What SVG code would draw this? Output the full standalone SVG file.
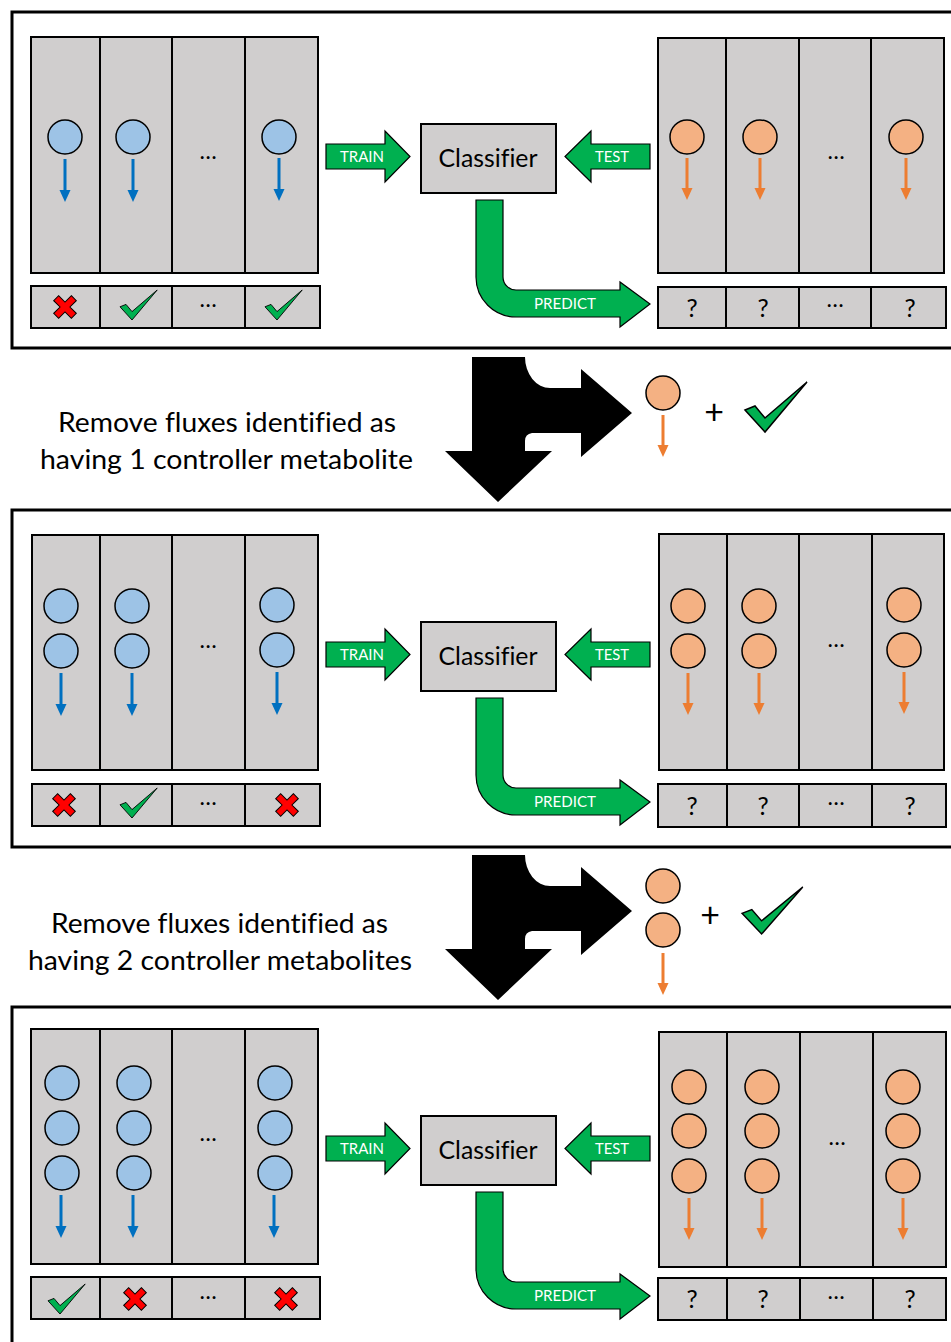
<svg xmlns="http://www.w3.org/2000/svg" xmlns:xlink="http://www.w3.org/1999/xlink" width="951" height="1342" viewBox="0 0 951 1342">
<style>
text{font-variant-ligatures:none;font-feature-settings:"liga" 0}
.panel{fill:#fff;stroke:#000;stroke-width:3}
.g{fill:#D0CECE;stroke:#000;stroke-width:2}
.dv{stroke:#000;stroke-width:2}
.bc{fill:#9DC3E6;stroke:#000;stroke-width:1.5}
.oc{fill:#F4B183;stroke:#000;stroke-width:1.5}
.grn{fill:#00B050;stroke:#000;stroke-width:1.2}
.lbl{font-family:Lato,"Liberation Sans",sans-serif;fill:#fff;font-size:15px;text-anchor:middle}
.cls{font-family:Lato,"Liberation Sans",sans-serif;fill:#000;font-size:25px;text-anchor:middle}
.el{font-family:Lato,"Liberation Sans",sans-serif;fill:#000;font-size:23px;text-anchor:middle}
.q{font-family:Lato,"Liberation Sans",sans-serif;fill:#000;font-size:25px;text-anchor:middle}
.big{font-family:Lato,"Liberation Sans",sans-serif;fill:#000;font-size:26px;text-anchor:middle}
.plus{font-family:Lato,"Liberation Sans",sans-serif;fill:#000;font-size:34px;text-anchor:middle}
</style>
<defs>
<g id="ab"><line x1="0" y1="0" x2="0" y2="32" stroke="#0070C0" stroke-width="3"/><polygon points="-5.5,31 5.5,31 0,43" fill="#0070C0"/></g>
<g id="ao"><line x1="0" y1="0" x2="0" y2="31" stroke="#ED7D31" stroke-width="3"/><polygon points="-5.5,30 5.5,30 0,42" fill="#ED7D31"/></g>
<path id="chk" d="M0,28 L10,24 L20,36 L62,0 L20,50 Z" fill="#00B050" stroke="#000" stroke-width="1.5" stroke-linejoin="miter"/>
<polygon id="xm" points="-3.5,-12.5 3.5,-12.5 3.5,-3.5 12.5,-3.5 12.5,3.5 3.5,3.5 3.5,12.5 -3.5,12.5 -3.5,3.5 -12.5,3.5 -12.5,-3.5 -3.5,-3.5" transform="rotate(45)" fill="#FF0000" stroke="#000" stroke-width="1"/>
<g id="clsf">
<path class="grn" d="M326,144 L385,144 L385,131 L410,156.5 L385,182 L385,169 L326,169 Z"/>
<text class="lbl" x="362" y="161.5" textLength="44" lengthAdjust="spacingAndGlyphs">TRAIN</text>
<path class="grn" d="M650,144 L591,144 L591,131 L565,156.5 L591,182 L591,169 L650,169 Z"/>
<text class="lbl" x="612" y="162" textLength="34" lengthAdjust="spacingAndGlyphs">TEST</text>
<rect class="g" x="421" y="124" width="135" height="69"/>
<text class="cls" x="488" y="167" textLength="99" lengthAdjust="spacingAndGlyphs">Classifier</text>
<path class="grn" d="M476,200 L503,200 L503,277 A13,13 0 0 0 516,290 L620,290 L620,282 L650,304 L620,327 L620,317 L516,317 A40,40 0 0 1 476,277 Z"/>
<text class="lbl" x="565" y="309" textLength="62" lengthAdjust="spacingAndGlyphs">PREDICT</text>
</g>
<path id="bigarrow" d="M472,357 L525,357 A25,31 0 0 0 550,388 L581,388 L581,369 L632,413 L581,457 L581,433 L532,433 Q525,434 525,441 L525,451 L552,451 L498,502 L445,451 L472,451 Z" fill="#000"/>
</defs>

<!-- Panel 1 -->
<g id="panel1">
<rect class="panel" x="12" y="12" width="975" height="336"/>
<g id="p1-train-set">
<rect class="g" x="31" y="37" width="287" height="236"/>
<line class="dv" x1="100" y1="37" x2="100" y2="273"/><line class="dv" x1="172" y1="37" x2="172" y2="273"/><line class="dv" x1="245" y1="37" x2="245" y2="273"/>
<circle class="bc" cx="65" cy="137" r="17"/><circle class="bc" cx="133" cy="137" r="17"/><circle class="bc" cx="279" cy="137" r="17"/>
<use xlink:href="#ab" x="65" y="159"/><use xlink:href="#ab" x="133" y="159"/><use xlink:href="#ab" x="279" y="158"/>
<text class="el" x="208" y="159">…</text>
</g>
<g id="p1-train-labels">
<rect class="g" x="31" y="286" width="289" height="42"/>
<line class="dv" x1="100" y1="286" x2="100" y2="328"/><line class="dv" x1="172" y1="286" x2="172" y2="328"/><line class="dv" x1="245" y1="286" x2="245" y2="328"/>
<use xlink:href="#xm" x="65" y="307"/>
<use xlink:href="#chk" transform="translate(120,290) scale(0.6)"/>
<text class="el" x="208" y="307">…</text>
<use xlink:href="#chk" transform="translate(265,290) scale(0.6)"/>
</g>
<g id="p1-test-set">
<rect class="g" x="658" y="38" width="286" height="235"/>
<line class="dv" x1="726" y1="38" x2="726" y2="273"/><line class="dv" x1="799" y1="38" x2="799" y2="273"/><line class="dv" x1="871" y1="38" x2="871" y2="273"/>
<circle class="oc" cx="687" cy="137" r="17"/><circle class="oc" cx="760" cy="137" r="17"/><circle class="oc" cx="906" cy="137" r="17"/>
<use xlink:href="#ao" x="687" y="158"/><use xlink:href="#ao" x="760" y="158"/><use xlink:href="#ao" x="906" y="158"/>
<text class="el" x="836" y="159">…</text>
</g>
<g id="p1-test-labels">
<rect class="g" x="658" y="287" width="288" height="41"/>
<line class="dv" x1="726" y1="287" x2="726" y2="328"/><line class="dv" x1="799" y1="287" x2="799" y2="328"/><line class="dv" x1="871" y1="287" x2="871" y2="328"/>
<text class="q" x="692" y="317">?</text><text class="q" x="763" y="317">?</text><text class="el" x="835" y="307">…</text><text class="q" x="910" y="317">?</text>
</g>
<g id="p1-classifier"><use xlink:href="#clsf"/></g>
</g>

<!-- Transition 1 -->
<g id="step1">
<use xlink:href="#bigarrow"/>
<text class="big" x="227" y="432" textLength="338" lengthAdjust="spacingAndGlyphs">Remove fluxes identified as</text>
<text class="big" x="226.5" y="469" textLength="373" lengthAdjust="spacingAndGlyphs">having 1 controller metabolite</text>
<circle class="oc" cx="663" cy="393" r="17"/>
<use xlink:href="#ao" x="663" y="415"/>
<text class="plus" x="714" y="424">+</text>
<use xlink:href="#chk" transform="translate(745,382)"/>
</g>

<!-- Panel 2 -->
<g id="panel2">
<rect class="panel" x="12" y="510" width="975" height="337"/>
<g id="p2-train-set">
<rect class="g" x="32" y="535" width="286" height="235"/>
<line class="dv" x1="100" y1="535" x2="100" y2="770"/><line class="dv" x1="172" y1="535" x2="172" y2="770"/><line class="dv" x1="245" y1="535" x2="245" y2="770"/>
<circle class="bc" cx="61" cy="606" r="17"/><circle class="bc" cx="61" cy="651" r="17"/>
<circle class="bc" cx="132" cy="606" r="17"/><circle class="bc" cx="132" cy="651" r="17"/>
<circle class="bc" cx="277" cy="605" r="17"/><circle class="bc" cx="277" cy="650" r="17"/>
<use xlink:href="#ab" x="61" y="673"/><use xlink:href="#ab" x="132" y="673"/><use xlink:href="#ab" x="277" y="672"/>
<text class="el" x="208" y="648">…</text>
</g>
<g id="p2-train-labels">
<rect class="g" x="32" y="784" width="288" height="42"/>
<line class="dv" x1="100" y1="784" x2="100" y2="826"/><line class="dv" x1="172" y1="784" x2="172" y2="826"/><line class="dv" x1="245" y1="784" x2="245" y2="826"/>
<use xlink:href="#xm" x="64" y="805"/>
<use xlink:href="#chk" transform="translate(120,788) scale(0.6)"/>
<text class="el" x="208" y="805">…</text>
<use xlink:href="#xm" x="287" y="805"/>
</g>
<g id="p2-test-set">
<rect class="g" x="659" y="534" width="285" height="236"/>
<line class="dv" x1="727" y1="534" x2="727" y2="770"/><line class="dv" x1="799" y1="534" x2="799" y2="770"/><line class="dv" x1="872" y1="534" x2="872" y2="770"/>
<circle class="oc" cx="688" cy="606" r="17"/><circle class="oc" cx="688" cy="651" r="17"/>
<circle class="oc" cx="759" cy="606" r="17"/><circle class="oc" cx="759" cy="651" r="17"/>
<circle class="oc" cx="904" cy="605" r="17"/><circle class="oc" cx="904" cy="650" r="17"/>
<use xlink:href="#ao" x="688" y="673"/><use xlink:href="#ao" x="759" y="673"/><use xlink:href="#ao" x="904" y="672"/>
<text class="el" x="836" y="647">…</text>
</g>
<g id="p2-test-labels">
<rect class="g" x="658" y="784" width="288" height="43"/>
<line class="dv" x1="727" y1="784" x2="727" y2="827"/><line class="dv" x1="799" y1="784" x2="799" y2="827"/><line class="dv" x1="872" y1="784" x2="872" y2="827"/>
<text class="q" x="692" y="815">?</text><text class="q" x="763" y="815">?</text><text class="el" x="836" y="805">…</text><text class="q" x="910" y="815">?</text>
</g>
<g id="p2-classifier" transform="translate(0,498)"><use xlink:href="#clsf"/></g>
</g>

<!-- Transition 2 -->
<g id="step2">
<use xlink:href="#bigarrow" transform="translate(0,498)"/>
<text class="big" x="219.5" y="933" textLength="337" lengthAdjust="spacingAndGlyphs">Remove fluxes identified as</text>
<text class="big" x="220" y="970" textLength="384" lengthAdjust="spacingAndGlyphs">having 2 controller metabolites</text>
<circle class="oc" cx="663" cy="886" r="17"/><circle class="oc" cx="663" cy="930" r="17"/>
<use xlink:href="#ao" x="663" y="953"/>
<text class="plus" x="710" y="927">+</text>
<use xlink:href="#chk" transform="translate(742,887) scale(0.98,0.94)"/>
</g>

<!-- Panel 3 -->
<g id="panel3">
<rect class="panel" x="12" y="1007" width="975" height="400"/>
<g id="p3-train-set">
<rect class="g" x="31" y="1029" width="287" height="235"/>
<line class="dv" x1="100" y1="1029" x2="100" y2="1264"/><line class="dv" x1="172" y1="1029" x2="172" y2="1264"/><line class="dv" x1="245" y1="1029" x2="245" y2="1264"/>
<circle class="bc" cx="62" cy="1083" r="17"/><circle class="bc" cx="62" cy="1128" r="17"/><circle class="bc" cx="62" cy="1173" r="17"/>
<circle class="bc" cx="134" cy="1083" r="17"/><circle class="bc" cx="134" cy="1128" r="17"/><circle class="bc" cx="134" cy="1173" r="17"/>
<circle class="bc" cx="275" cy="1083" r="17"/><circle class="bc" cx="275" cy="1128" r="17"/><circle class="bc" cx="275" cy="1173" r="17"/>
<use xlink:href="#ab" x="61" y="1195"/><use xlink:href="#ab" x="133" y="1195"/><use xlink:href="#ab" x="274" y="1195"/>
<text class="el" x="208" y="1141">…</text>
</g>
<g id="p3-train-labels">
<rect class="g" x="31" y="1277" width="289" height="42"/>
<line class="dv" x1="100" y1="1277" x2="100" y2="1319"/><line class="dv" x1="172" y1="1277" x2="172" y2="1319"/><line class="dv" x1="245" y1="1277" x2="245" y2="1319"/>
<use xlink:href="#chk" transform="translate(48,1284) scale(0.6)"/>
<use xlink:href="#xm" x="135" y="1299"/>
<text class="el" x="208" y="1299">…</text>
<use xlink:href="#xm" x="286" y="1299"/>
</g>
<g id="p3-test-set">
<rect class="g" x="659" y="1032" width="287" height="235"/>
<line class="dv" x1="727" y1="1032" x2="727" y2="1267"/><line class="dv" x1="800" y1="1032" x2="800" y2="1267"/><line class="dv" x1="873" y1="1032" x2="873" y2="1267"/>
<circle class="oc" cx="689" cy="1087" r="17"/><circle class="oc" cx="689" cy="1131" r="17"/><circle class="oc" cx="689" cy="1176" r="17"/>
<circle class="oc" cx="762" cy="1087" r="17"/><circle class="oc" cx="762" cy="1131" r="17"/><circle class="oc" cx="762" cy="1176" r="17"/>
<circle class="oc" cx="903" cy="1087" r="17"/><circle class="oc" cx="903" cy="1131" r="17"/><circle class="oc" cx="903" cy="1176" r="17"/>
<use xlink:href="#ao" x="689" y="1198"/><use xlink:href="#ao" x="762" y="1198"/><use xlink:href="#ao" x="903" y="1198"/>
<text class="el" x="837" y="1145">…</text>
</g>
<g id="p3-test-labels">
<rect class="g" x="658" y="1278" width="288" height="42"/>
<line class="dv" x1="727" y1="1278" x2="727" y2="1320"/><line class="dv" x1="800" y1="1278" x2="800" y2="1320"/><line class="dv" x1="873" y1="1278" x2="873" y2="1320"/>
<text class="q" x="692" y="1308">?</text><text class="q" x="763" y="1308">?</text><text class="el" x="836" y="1299">…</text><text class="q" x="910" y="1308">?</text>
</g>
<g id="p3-classifier" transform="translate(0,992)"><use xlink:href="#clsf"/></g>
</g>
</svg>
